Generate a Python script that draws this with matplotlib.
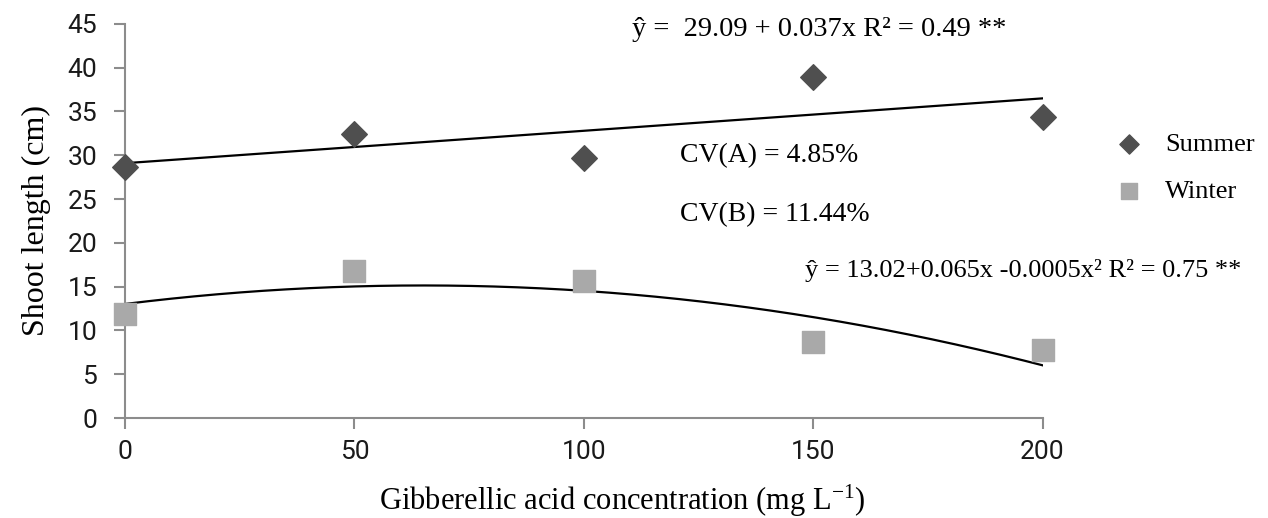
import numpy as np
import matplotlib
matplotlib.use("Agg")
import matplotlib.pyplot as plt

plt.rcParams['mathtext.fontset'] = 'custom'
plt.rcParams['mathtext.rm'] = 'Liberation Serif'
plt.rcParams['mathtext.it'] = 'Liberation Serif'

# Data
ga_conc = [0, 50, 100, 150, 200]
summer = [28.7, 32.4, 29.7, 38.9, 34.4]
winter = [11.9, 16.8, 15.6, 8.7, 7.8]

# Regression coefficients as printed on the chart (c0, c1, c2)
summer_coef = [29.09, 0.037]
winter_coef = [13.02, 0.065, -0.0005]

serif = 'Liberation Serif'

fig = plt.figure(figsize=(12.68, 5.18), dpi=100)
ax = fig.add_axes([0.0986, 0.193, 0.7236, 0.761])

# trend lines
xs = np.linspace(0, 200, 200)
ax.plot(xs, np.polyval(summer_coef[::-1], xs), color='black', lw=1.6, zorder=2)
ax.plot(xs, np.polyval(winter_coef[::-1], xs), color='black', lw=1.6, zorder=2)

# points
ax.scatter(ga_conc, summer, marker='D', s=170, color='#4f4f4f', zorder=3, label='Summer', clip_on=False)
ax.scatter(ga_conc, winter, marker='s', s=260, color='#a9a9a9', zorder=3, label='Winter', clip_on=False)

ax.set_xlim(0, 200)
ax.set_ylim(0, 45)
ax.set_xticks([0, 50, 100, 150, 200])
ax.set_yticks(range(0, 50, 5))

for side in ['top', 'right']:
    ax.spines[side].set_visible(False)
for side in ['left', 'bottom']:
    ax.spines[side].set_color('#8c8c8c')
    ax.spines[side].set_linewidth(1.5)
ax.tick_params(axis='both', direction='out', length=8, width=1.5, color='#8c8c8c',
               labelcolor='#1a1a1a')
ax.tick_params(axis='x', pad=8)
ax.tick_params(axis='y', pad=12)
for lab in ax.get_xticklabels() + ax.get_yticklabels():
    lab.set_fontfamily('Roboto')
    lab.set_fontsize(19)

ax.set_ylabel('Shoot length (cm)', fontsize=23, fontfamily=serif, va='center')
ax.yaxis.set_label_coords(-0.097, 0.5)
ax.set_xlabel(r'Gibberellic acid concentration (mg L$^{\mathregular{-1}}$)', fontsize=22,
              fontfamily=serif, va='center')
ax.xaxis.set_label_coords(0.542, -0.21)

ax.text(110.6, 44.3, 'ŷ =  29.09 + 0.037x R² = 0.49 **', fontsize=20.5, fontfamily=serif,
        va='center', ha='left', clip_on=False)
ax.text(121.0, 30.0, 'CV(A) = 4.85%', fontsize=20, fontfamily=serif, va='center', ha='left')
ax.text(121.0, 23.2, 'CV(B) = 11.44%', fontsize=20, fontfamily=serif, va='center', ha='left')
ax.text(148.3, 16.8, 'ŷ = 13.02+0.065x -0.0005x² R² = 0.75 **', fontsize=19, fontfamily=serif,
        va='center', ha='left', clip_on=False)

leg = ax.legend(loc='upper left', bbox_to_anchor=(1.04, 0.785), frameon=False,
                prop={'family': serif, 'size': 19}, handletextpad=0.35, labelspacing=0.9,
                markerscale=0.75)

fig.savefig('out.png', dpi=100)
